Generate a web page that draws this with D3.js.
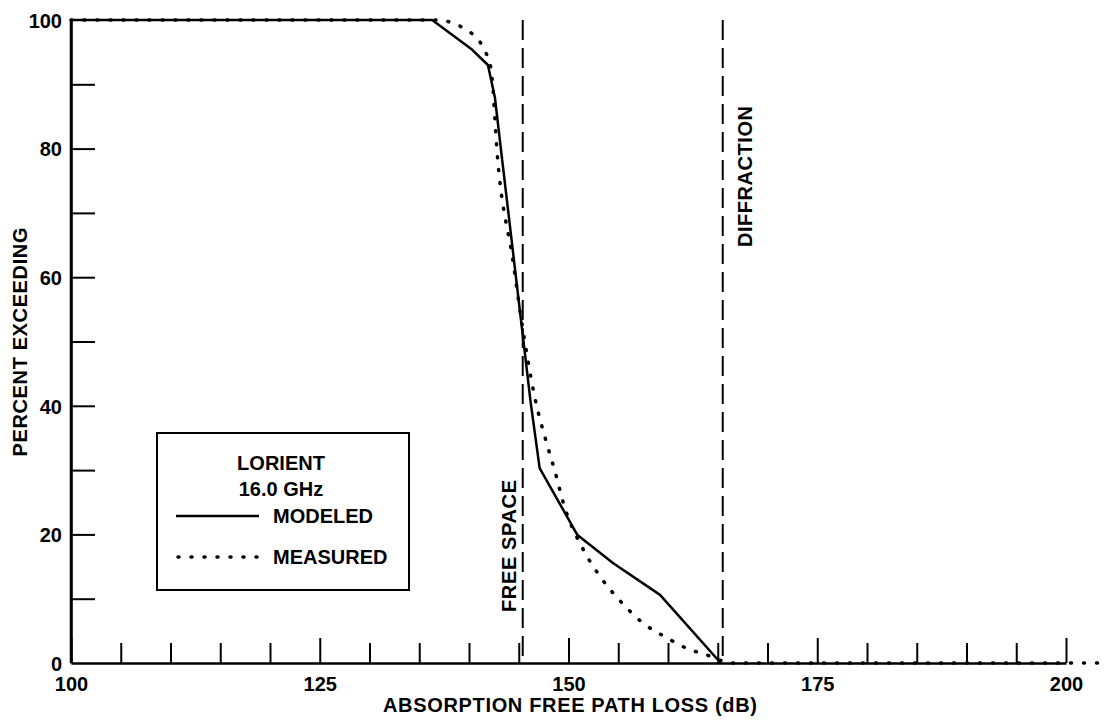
<!DOCTYPE html>
<html>
<head>
<meta charset="utf-8">
<script src="https://cdn.jsdelivr.net/npm/d3@7"></script>
<style>
  body { margin: 0; background: #fff; }
  text { font-family: "Liberation Sans", Arial, sans-serif; font-weight: bold; fill: #000; }
</style>
</head>
<body>
<div class="chart-area"></div>
<script>
// values
let modeled = [
  [100, 100], [136.3, 100], [140.3, 95.4], [141.9, 93], [142.6, 88], [143.2, 80],
  [146.2, 40.5], [147.1, 30.3], [150.9, 19.9], [154.5, 15.5], [159.2, 10.6], [165.3, 0]
];
let measured = [
  [100, 100], [137, 100], [138.4, 99.5], [139.8, 98.4], [140.9, 97], [141.6, 95.2],
  [142.2, 92.5], [142.9, 78], [144.4, 62.7], [145.3, 53], [146.6, 41.4], [147.8, 34.2],
  [148.6, 30], [149.6, 24.3], [151.5, 17.6], [153.2, 13.4], [155.4, 9.3], [157.5, 6.2],
  [159.9, 3.9], [162, 2.2], [164, 1.2], [165.5, 0.3], [166.5, 0], [203.4, 0]
];
let refLines = [
  {name: "FREE SPACE", x: 145.4},
  {name: "DIFFRACTION", x: 165.5}
];
let xMajor = [100, 125, 150, 175, 200];
let xMinor = [105, 110, 115, 120, 130, 135, 140, 145, 155, 160, 165, 170, 180, 185, 190, 195];
let yMinor = [10, 20, 30, 40, 50, 60, 70, 80, 90];
let yLabels = [0, 20, 40, 60, 80, 100];

let width = 1109;
let height = 723;

const svg = d3.select(".chart-area").append("svg")
  .attr("width", width)
  .attr("height", height);

const x = d3.scaleLinear().domain([100, 200]).range([71, 1066]);
const y = d3.scaleLinear().domain([0, 100]).range([663, 20]);

// x axis: inward ticks, taller at labelled values
svg.append("g")
  .attr("transform", `translate(0,${y(0)})`)
  .call(d3.axisBottom(x).tickValues(xMinor).tickSize(-20).tickSizeOuter(0).tickFormat(""))
  .call(g => g.select(".domain").remove());

let xAx = svg.append("g")
  .attr("transform", `translate(0,${y(0)})`)
  .call(d3.axisBottom(x).tickValues(xMajor).tickSize(-25).tickSizeOuter(0).tickPadding(14));
xAx.selectAll("text").style("font-size", "20px");

// y axis
svg.append("g")
  .attr("transform", `translate(${x(100)},0)`)
  .call(d3.axisLeft(y).tickValues(yMinor).tickSize(-24).tickSizeOuter(0).tickFormat(""));

let yAx = svg.append("g")
  .attr("transform", `translate(${x(100)},0)`)
  .call(d3.axisLeft(y).tickValues(yLabels).tickSize(0).tickPadding(9));
yAx.selectAll("text").style("font-size", "20px").attr("dy", "0.36em");
yAx.select(".domain").remove();

svg.append("line")
  .attr("x1", x(100)).attr("x2", x(100))
  .attr("y1", y(0)).attr("y2", y(100))
  .attr("stroke", "#000").attr("stroke-width", 2.5);

svg.selectAll(".tick line").attr("stroke", "#000").attr("stroke-width", 2);
svg.selectAll(".domain").attr("stroke", "#000").attr("stroke-width", 2.5);
svg.selectAll(".tick text").style("font-family", "'Liberation Sans', Arial, sans-serif").style("font-weight", "bold");

// axis titles
svg.append("text")
  .attr("x", 570).attr("y", 712)
  .attr("text-anchor", "middle")
  .style("font-size", "20px")
  .attr("textLength", 374)
  .text("ABSORPTION FREE PATH LOSS (dB)");

svg.append("text")
  .attr("transform", "translate(27,342) rotate(-90)")
  .attr("text-anchor", "middle")
  .style("font-size", "20px")
  .attr("textLength", 229)
  .text("PERCENT EXCEEDING");

// dashed reference lines
svg.selectAll(".ref")
  .data(refLines)
  .join("line")
  .attr("class", "ref")
  .attr("x1", d => x(d.x)).attr("x2", d => x(d.x))
  .attr("y1", y(100)).attr("y2", y(0))
  .attr("stroke", "#000")
  .attr("stroke-width", 2)
  .attr("stroke-dasharray", "20,8");

svg.append("text")
  .attr("transform", `translate(${x(145.4) - 7},612) rotate(-90)`)
  .style("font-size", "20px")
  .attr("textLength", 132)
  .text("FREE SPACE");

svg.append("text")
  .attr("transform", `translate(${x(165.5) + 29},247) rotate(-90)`)
  .style("font-size", "20px")
  .attr("textLength", 141)
  .text("DIFFRACTION");

// curves
const line = d3.line().x(d => x(d[0])).y(d => y(d[1]));
const smooth = d3.line().x(d => x(d[0])).y(d => y(d[1])).curve(d3.curveMonotoneX);

svg.append("path")
  .datum(measured)
  .attr("d", smooth)
  .attr("fill", "none")
  .attr("stroke", "#000")
  .attr("stroke-width", 3.5)
  .attr("stroke-linecap", "round")
  .attr("stroke-dasharray", "1,12");

svg.append("path")
  .datum(modeled)
  .attr("d", line)
  .attr("fill", "none")
  .attr("stroke", "#000")
  .attr("stroke-width", 2.5)
  .attr("stroke-linejoin", "round");

// legend
let legend = svg.append("g");
legend.append("rect")
  .attr("x", 157).attr("y", 433)
  .attr("width", 252).attr("height", 157)
  .attr("fill", "#fff")
  .attr("stroke", "#000")
  .attr("stroke-width", 2);
legend.append("text")
  .attr("x", 281).attr("y", 470)
  .attr("text-anchor", "middle")
  .style("font-size", "20px")
  .text("LORIENT");
legend.append("text")
  .attr("x", 281).attr("y", 496)
  .attr("text-anchor", "middle")
  .style("font-size", "20px")
  .text("16.0 GHz");
legend.append("line")
  .attr("x1", 176).attr("x2", 259).attr("y1", 516).attr("y2", 516)
  .attr("stroke", "#000").attr("stroke-width", 2.5);
legend.append("text")
  .attr("x", 273).attr("y", 523)
  .style("font-size", "20px")
  .text("MODELED");
legend.append("line")
  .attr("x1", 178).attr("x2", 259).attr("y1", 557).attr("y2", 557)
  .attr("stroke", "#000").attr("stroke-width", 3.5)
  .attr("stroke-linecap", "round")
  .attr("stroke-dasharray", "1,12");
legend.append("text")
  .attr("x", 273).attr("y", 564)
  .style("font-size", "20px")
  .text("MEASURED");
</script>
</body>
</html>
